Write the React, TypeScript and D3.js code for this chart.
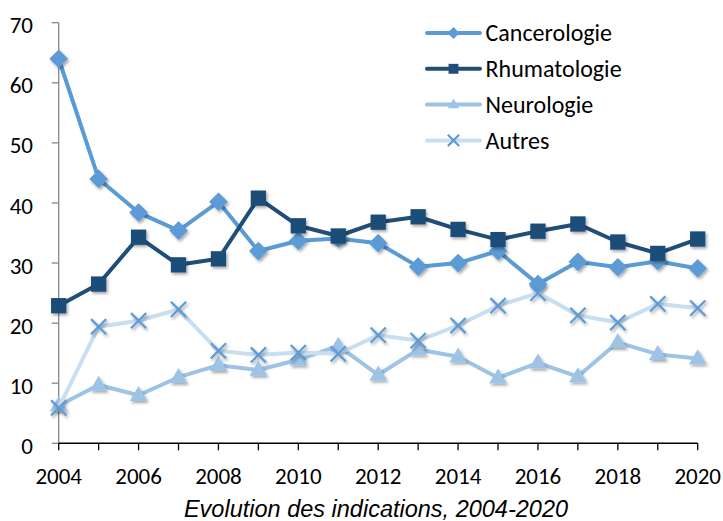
import React from "react";
import * as d3 from "d3";

const years = [2004,2005,2006,2007,2008,2009,2010,2011,2012,2013,2014,2015,2016,2017,2018,2019,2020];
const cancerologie = [64,44,38.4,35.4,40.2,32,33.7,34.1,33.3,29.4,30,32,26.5,30.2,29.3,30.3,29.1];
const rhumatologie = [22.9,26.5,34.3,29.7,30.7,40.8,36.2,34.5,36.8,37.7,35.6,33.9,35.3,36.5,33.5,31.6,34];
const neurologie = [6.3,9.7,8.0,11.0,13.0,12.2,13.9,16.2,11.4,15.6,14.4,10.9,13.4,11.1,16.8,14.8,14.1];
const autres = [5.9,19.4,20.4,22.3,15.4,14.7,15.1,14.9,18.0,17.1,19.6,22.9,25.0,21.3,20.1,23.2,22.5];
const yTicks = [0,10,20,30,40,50,60,70];
const xTicks = [2004,2006,2008,2010,2012,2014,2016,2018,2020];
const seriesNames = ["Cancerologie","Rhumatologie","Neurologie","Autres"];
const title = "Evolution des indications, 2004-2020";

const W = 723, H = 521;
const x = d3.scaleLinear().domain([2004, 2020]).range([58.7, 697.7]);
const y = d3.scaleLinear().domain([0, 70]).range([443.3, 22.7]);

type S = { name: string; values: number[]; line: string; marker: string; shape: string };
const series: S[] = [
  { name: seriesNames[0], values: cancerologie, line: "#5B9BD5", marker: "#5B9BD5", shape: "diamond" },
  { name: seriesNames[1], values: rhumatologie, line: "#1F4E79", marker: "#1F4E79", shape: "square" },
  { name: seriesNames[2], values: neurologie, line: "#9DC3E6", marker: "#9DC3E6", shape: "triangle" },
  { name: seriesNames[3], values: autres, line: "#C9DEF1", marker: "#5B9BD5", shape: "x" },
];

function Marker({ shape, color, cx, cy, s }: { shape: string; color: string; cx: number; cy: number; s: number }) {
  if (shape === "diamond") {
    const r = s * 0.55;
    return <path d={`M${cx},${cy - r}L${cx + r},${cy}L${cx},${cy + r}L${cx - r},${cy}Z`} fill={color} />;
  }
  if (shape === "square") {
    const r = s * 0.45;
    return <rect x={cx - r} y={cy - r} width={2 * r} height={2 * r} fill={color} />;
  }
  if (shape === "triangle") {
    const r = s * 0.52;
    return <path d={`M${cx},${cy - r * 1.05}L${cx + r},${cy + r * 0.65}L${cx - r},${cy + r * 0.65}Z`} fill={color} />;
  }
  const r = s * 0.4;
  return (
    <path d={`M${cx - r},${cy - r}L${cx + r},${cy + r}M${cx - r},${cy + r}L${cx + r},${cy - r}`} stroke={color} strokeWidth={2.2} fill="none" />
  );
}

export default function App() {
  const line = d3.line<number>().x((_, i) => x(years[i])).y((v) => y(v));
  const font = "Calibri, Carlito, 'Open Sans', sans-serif";
  return (
    <svg width={W} height={H} style={{ position: "absolute", left: 0, top: 0, background: "#fff" }}>
      <defs>
        <filter id="sh" x="-50%" y="-50%" width="200%" height="200%">
          <feDropShadow dx="1.5" dy="2" stdDeviation="1.5" floodColor="#000" floodOpacity="0.35" />
        </filter>
      </defs>
      {/* y axis */}
      <line x1={x(2004)} x2={x(2004)} y1={y(70)} y2={y(0)} stroke="#888" strokeWidth={1.3} />
      {yTicks.map((t) => (
        <g key={t}>
          <line x1={x(2004) - 7} x2={x(2004)} y1={y(t)} y2={y(t)} stroke="#888" strokeWidth={1.3} />
          <text x={33} y={y(t) + 2.5} dy="0.35em" textAnchor="end" fontSize={23} fontFamily={font} fill="#000">{t}</text>
        </g>
      ))}
      {/* x axis */}
      <line x1={x(2004)} x2={x(2020)} y1={y(0)} y2={y(0)} stroke="#000" strokeWidth={1.5} />
      {years.map((yr) => (
        <line key={yr} x1={x(yr)} x2={x(yr)} y1={y(0)} y2={y(0) + 7} stroke="#000" strokeWidth={1.3} />
      ))}
      {xTicks.map((t) => (
        <text key={t} x={x(t)} y={476} dy="0.35em" textAnchor="middle" fontSize={23} fontFamily={font} fill="#000">{t}</text>
      ))}
      <text x={376} y={516.5} textAnchor="middle" fontSize={23.5} fontStyle="italic" fontFamily="'Liberation Sans', Arial, sans-serif" fill="#000">{title}</text>
      {/* series */}
      {series.map((s) => (
        <g key={s.name}>
          <path d={line(s.values) || ""} fill="none" stroke={s.line} strokeWidth={4} strokeLinejoin="round" />
          <g filter="url(#sh)">
            {s.values.map((v, i) => (
              <Marker key={i} shape={s.shape} color={s.marker} cx={x(years[i])} cy={y(v)} s={s.shape === "x" ? 19 : 17} />
            ))}
          </g>
        </g>
      ))}
      {/* legend */}
      {series.map((s, i) => {
        const ly = 33 + i * 35.8;
        return (
          <g key={s.name}>
            <line x1={427} x2={480} y1={ly} y2={ly} stroke={s.line} strokeWidth={4} strokeLinecap="round" />
            <Marker shape={s.shape} color={s.marker} cx={453.5} cy={ly} s={s.shape === "x" ? 14 : 11} />
            <text x={485.5} y={ly} dy="0.35em" fontSize={24} fontFamily={font} fill="#000">{s.name}</text>
          </g>
        );
      })}
    </svg>
  );
}
